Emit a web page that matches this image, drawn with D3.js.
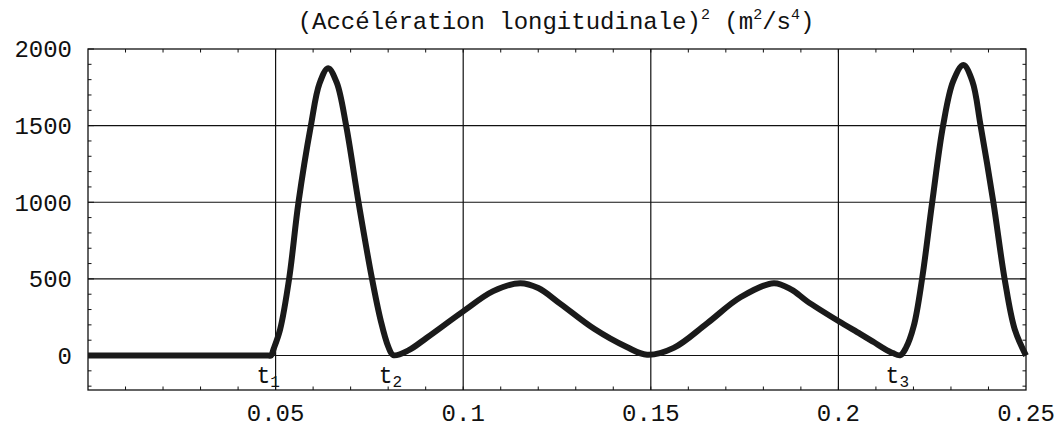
<!DOCTYPE html>
<html>
<head>
<meta charset="utf-8">
<script src="https://cdn.jsdelivr.net/npm/d3@7"></script>
<style>
  body { margin: 0; background: #fff; }
  svg { display: block; }
</style>
</head>
<body>
<div class="canvas"></div>
<script>
// time (s) and squared longitudinal acceleration (m2/s4)
const times = [0, 0.024, 0.048, 0.0488, 0.0494, 0.0512, 0.0536, 0.0561, 0.0594, 0.0617, 0.064, 0.0663,
    0.0688, 0.0721, 0.0757, 0.078, 0.08, 0.0814, 0.0855, 0.0903, 0.1, 0.108, 0.1152, 0.12,
    0.1259, 0.1349, 0.1436, 0.149, 0.1561, 0.165, 0.1739, 0.1828, 0.1875, 0.1916, 0.2, 0.2059, 0.2094,
    0.2122, 0.2145, 0.2165, 0.218, 0.2201, 0.2223, 0.225, 0.2279, 0.2306, 0.2333, 0.2357,
    0.2379, 0.2413, 0.2443, 0.247, 0.25];
const accel2 = [0, 0, 0, 0, 38, 170, 500, 1000, 1500, 1775, 1875, 1780,
    1500, 1000, 500, 230, 60, 2, 35, 116, 288, 420, 472, 440,
    337, 174, 55, 5, 50, 210, 380, 472, 430, 355, 225, 140, 88,
    45, 16, 2, 50, 194, 500, 1000, 1500, 1790, 1895, 1790,
    1500, 1000, 500, 170, 0];

const xTicks = [0.05, 0.1, 0.15, 0.2, 0.25];
const xTickLabels = ['0.05', '0.1', '0.15', '0.2', '0.25'];
const yTicks = [0, 500, 1000, 1500, 2000];
const tMarks = [0.0488, 0.0814, 0.2165];
const tNames = ['1', '2', '3'];

const width = 1062, height = 428;
const margin = {top: 49, right: 36, bottom: 38, left: 88};

const svg = d3.select('.canvas')
    .append('svg')
        .attr('width', width)
        .attr('height', height);

const x = d3.scaleLinear().domain([0, 0.25]).range([margin.left, width - margin.right]);
const y = d3.scaleLinear().domain([-225, 2000]).range([height - margin.bottom, margin.top]);

const mono = '"Liberation Mono", "DejaVu Sans Mono", monospace';

// grid lines
svg.append('g')
    .selectAll('line.vgrid')
    .data(xTicks.slice(0, -1))
    .enter()
    .append('line')
    .attr('class', 'vgrid')
    .attr('stroke', '#111')
    .attr('stroke-width', 1.2)
    .attr('x1', d => x(d)).attr('x2', d => x(d))
    .attr('y1', y(-225)).attr('y2', y(2000));

svg.append('g')
    .selectAll('line.hgrid')
    .data(yTicks.slice(0, -1))
    .enter()
    .append('line')
    .attr('class', 'hgrid')
    .attr('stroke', '#111')
    .attr('stroke-width', 1.2)
    .attr('x1', x(0)).attr('x2', x(0.25))
    .attr('y1', d => y(d)).attr('y2', d => y(d));

// frame ticks (minor every 100 / 0.01)
const yMinor = d3.range(-200, 2001, 100);
const xMinor = d3.range(0.01, 0.25, 0.01);

const frameTicks = svg.append('g').attr('stroke', '#111').attr('stroke-width', 1);
frameTicks.selectAll('line.yl').data(yMinor).enter().append('line')
    .attr('x1', x(0)).attr('x2', d => x(0) + (d % 500 === 0 ? 6 : 3.5))
    .attr('y1', d => y(d)).attr('y2', d => y(d));
frameTicks.selectAll('line.yr').data(yMinor).enter().append('line')
    .attr('x1', x(0.25)).attr('x2', d => x(0.25) - (d % 500 === 0 ? 6 : 3.5))
    .attr('y1', d => y(d)).attr('y2', d => y(d));
frameTicks.selectAll('line.xb').data(xMinor).enter().append('line')
    .attr('x1', d => x(d)).attr('x2', d => x(d))
    .attr('y1', y(-225)).attr('y2', y(-225) - 3.5);
frameTicks.selectAll('line.xt').data(xMinor).enter().append('line')
    .attr('x1', d => x(d)).attr('x2', d => x(d))
    .attr('y1', y(2000)).attr('y2', y(2000) + 3.5);

// frame
svg.append('rect')
    .attr('x', x(0))
    .attr('y', y(2000))
    .attr('width', x(0.25) - x(0))
    .attr('height', y(-225) - y(2000))
    .attr('fill', 'none')
    .attr('stroke', '#111')
    .attr('stroke-width', 1.3);

// tick labels
svg.append('g')
    .selectAll('text.ylab')
    .data(yTicks)
    .enter()
    .append('text')
    .attr('x', 72)
    .attr('y', d => y(d))
    .attr('dy', '0.35em')
    .attr('text-anchor', 'end')
    .attr('font-family', mono)
    .attr('font-size', 24)
    .attr('fill', '#111')
    .text(d => d);

svg.append('g')
    .selectAll('text.xlab')
    .data(xTicks)
    .enter()
    .append('text')
    .attr('x', d => x(d))
    .attr('y', 421)
    .attr('text-anchor', 'middle')
    .attr('font-family', mono)
    .attr('font-size', 24)
    .attr('fill', '#111')
    .text((d, i) => xTickLabels[i]);

// curve
const line = d3.line()
    .x((d, i) => x(times[i]))
    .y(d => y(d))
    .curve(d3.curveCatmullRom.alpha(0.5));

svg.append('path')
    .datum(accel2)
    .attr('fill', 'none')
    .attr('stroke', '#1a1a1a')
    .attr('stroke-width', 6)
    .attr('stroke-linejoin', 'round')
    .attr('d', line);

// t markers
const tLab = svg.append('g')
    .selectAll('text.tlab')
    .data(tMarks)
    .enter()
    .append('text')
    .attr('x', d => x(d) - 3)
    .attr('y', 383)
    .attr('text-anchor', 'middle')
    .attr('font-family', mono)
    .attr('font-size', 23)
    .attr('fill', '#111');
tLab.append('tspan').text('t');
tLab.append('tspan')
    .attr('font-size', 16)
    .attr('dy', 4)
    .text((d, i) => tNames[i]);

// title
const title = svg.append('text')
    .attr('x', 556)
    .attr('y', 29)
    .attr('text-anchor', 'middle')
    .attr('font-family', mono)
    .attr('font-size', 24)
    .attr('fill', '#111');
title.append('tspan').text('(Accélération longitudinale)');
title.append('tspan').attr('font-size', 15).attr('dy', -10).text('2');
title.append('tspan').attr('dy', 10).text(' (m');
title.append('tspan').attr('font-size', 15).attr('dy', -10).text('2');
title.append('tspan').attr('dy', 10).text('/s');
title.append('tspan').attr('font-size', 15).attr('dy', -10).text('4');
title.append('tspan').attr('dy', 10).text(')');
</script>
</body>
</html>
